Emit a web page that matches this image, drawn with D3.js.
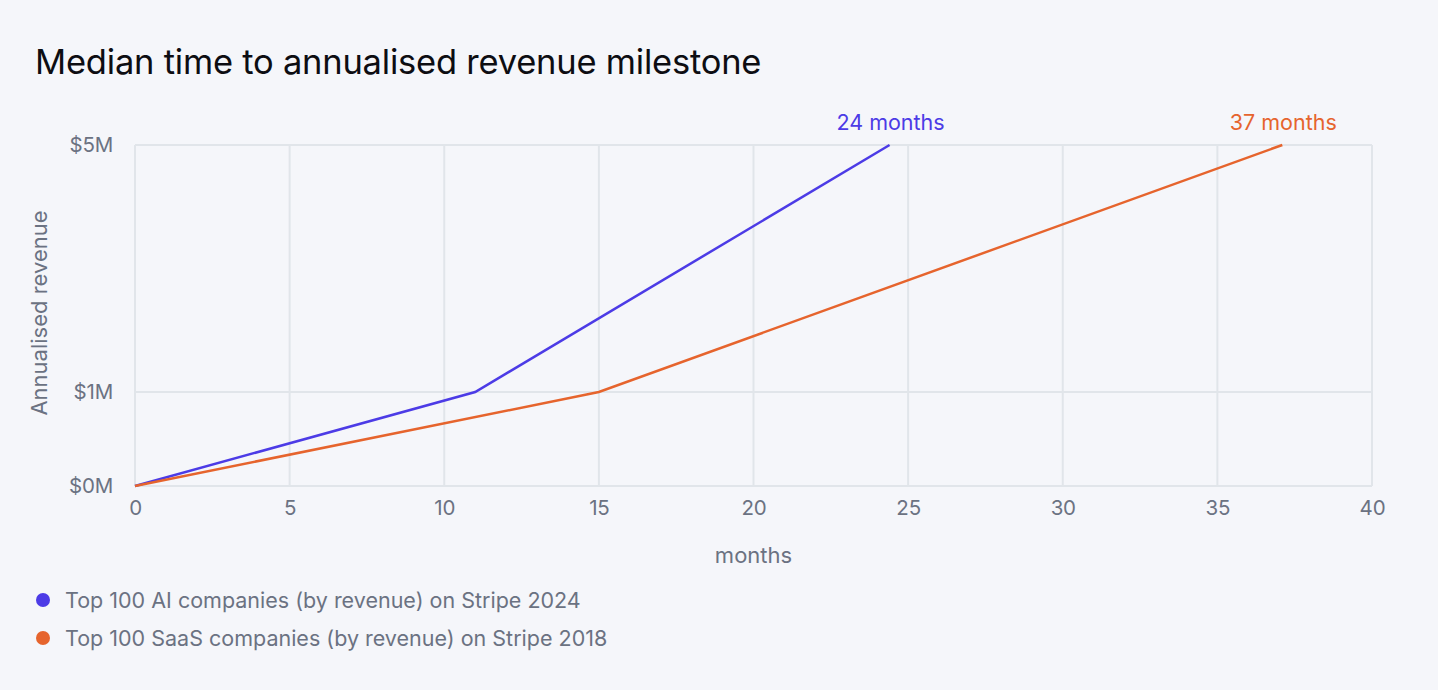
<!DOCTYPE html>
<html>
<head>
<meta charset="utf-8">
<script src="https://cdn.jsdelivr.net/npm/d3@7"></script>
<style>
  html, body { margin: 0; padding: 0; background: #f5f6fa; }
  svg { display: block; font-family: Inter, "Noto Sans", sans-serif; }
</style>
</head>
<body>
<div id="chart"></div>
<script>
// values
var seriesNames = ["Top 100 AI companies (by revenue) on Stripe 2024", "Top 100 SaaS companies (by revenue) on Stripe 2018"];
var aiMonths = [0, 11, 24.4];
var aiRevenue = [0, 1, 5];
var saasMonths = [0, 15, 37.1];
var saasRevenue = [0, 1, 5];
var endLabels = ["24 months", "37 months"];
var xTicks = [0, 5, 10, 15, 20, 25, 30, 35, 40];
var yTicks = [0, 1, 5];
var yTickLabels = ["$0M", "$1M", "$5M"];
var colors = ["#4c3be6", "#e6642d"];

var width = 1438, height = 690;
var margin = {left: 135, right: 66, top: 145, bottom: 204};

var svg = d3.select("#chart").append("svg")
    .attr("width", width)
    .attr("height", height);

// y axis is piecewise: 0->1M takes less room than 1M->5M
var x = d3.scaleLinear().domain([0, 40]).range([margin.left, width - margin.right]);
var y = d3.scaleLinear().domain([0, 1, 5]).range([height - margin.bottom, 392, margin.top]);

svg.append("text")
    .attr("x", 35).attr("y", 74)
    .attr("font-size", 34.5)
    .attr("letter-spacing", -0.22)
    .attr("fill", "#0d0d12")
    .text("Median time to annualised revenue milestone");

// grid
svg.append("g").selectAll("line").data(xTicks).enter().append("line")
    .attr("x1", function(d){ return x(d); }).attr("x2", function(d){ return x(d); })
    .attr("y1", y(5)).attr("y2", y(0))
    .attr("stroke", "#e1e5ea").attr("stroke-width", 2);
svg.append("g").selectAll("line").data(yTicks).enter().append("line")
    .attr("x1", x(0)).attr("x2", x(40))
    .attr("y1", function(d){ return y(d); }).attr("y2", function(d){ return y(d); })
    .attr("stroke", "#e1e5ea").attr("stroke-width", 2);

// axes (labels only)
var xAxis = svg.append("g")
    .attr("transform", "translate(0," + (y(0) + 8) + ")")
    .call(d3.axisBottom(x).tickValues(xTicks).tickSize(0).tickPadding(6));
var yAxis = svg.append("g")
    .attr("transform", "translate(" + (x(0) - 22) + ",0)")
    .call(d3.axisLeft(y).tickValues(yTicks).tickSize(0).tickPadding(0)
      .tickFormat(function(d, i){ return yTickLabels[i]; }));
[xAxis, yAxis].forEach(function(a){
  a.select(".domain").remove();
  a.selectAll("text").attr("font-size", 20.5).attr("fill", "#6b7282")
   .attr("font-family", "Inter, 'Noto Sans', sans-serif").attr("letter-spacing", -0.2);
});

svg.append("text")
    .attr("x", (x(0) + x(40)) / 2).attr("y", 563)
    .attr("text-anchor", "middle")
    .attr("font-size", 22).attr("fill", "#6b7282")
    .text("months");
svg.append("text")
    .attr("transform", "translate(47,313) rotate(-90)")
    .attr("text-anchor", "middle")
    .attr("font-size", 22).attr("fill", "#6b7282")
    .text("Annualised revenue");

// lines
var line = d3.line().x(function(d){ return x(d[0]); }).y(function(d){ return y(d[1]); });
var series = [d3.zip(aiMonths, aiRevenue), d3.zip(saasMonths, saasRevenue)];
svg.append("g").selectAll("path").data(series).enter().append("path")
    .attr("d", line)
    .attr("fill", "none")
    .attr("stroke", function(d, i){ return colors[i]; })
    .attr("stroke-width", 2.5);

// end labels
svg.append("g").selectAll("text").data(series).enter().append("text")
    .attr("x", function(d){ return x(d[d.length - 1][0]) + 1; })
    .attr("y", function(d){ return y(d[d.length - 1][1]) - 15; })
    .attr("text-anchor", "middle")
    .attr("font-size", 21.5)
    .attr("fill", function(d, i){ return colors[i]; })
    .text(function(d, i){ return endLabels[i]; });

// legend
var legend = svg.append("g").selectAll("g").data(seriesNames).enter().append("g")
    .attr("transform", function(d, i){ return "translate(43," + (600 + i * 38) + ")"; });
legend.append("circle").attr("r", 7).attr("fill", function(d, i){ return colors[i]; });
legend.append("text")
    .attr("x", 22).attr("dy", "0.35em")
    .attr("font-size", 21.5).attr("fill", "#6b7282")
    .text(function(d){ return d; });
</script>
</body>
</html>
